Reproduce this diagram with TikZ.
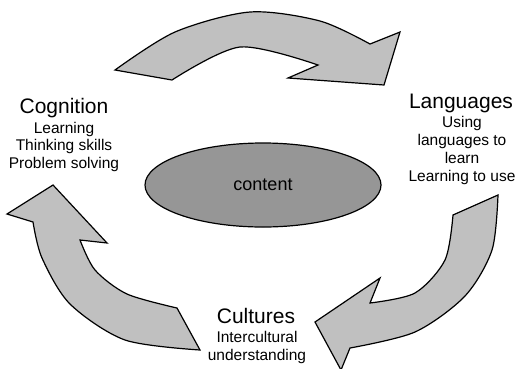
\documentclass[tikz,border=0pt]{standalone}
\usepackage{fontspec}
\setmainfont{Liberation Sans}
\usetikzlibrary{shapes.geometric}
\definecolor{arrowfill}{RGB}{192,192,192}
\definecolor{ellfill}{RGB}{150,150,150}
\newcommand\ttlfont{\fontsize{21}{24}\selectfont}
\newcommand\subfont{\fontsize{15.5}{17.8}\selectfont}
\begin{document}
\begin{tikzpicture}[x=1pt,y=-1pt,
  bigarrow/.style={draw=black, fill=arrowfill, line width=1.2pt, line join=miter},
  titletext/.style={anchor=base, inner sep=0pt, font=\ttlfont},
  subtext/.style={anchor=base, inner sep=0pt, align=center, font=\subfont}]
\useasboundingbox (0,0) rectangle (517,368);
\clip (0,0) rectangle (517,368);
% top arrow (Cognition -> Languages)
\draw[bigarrow] plot[smooth] coordinates {(115,70) (175,32) (250,12) (320,21) (370,44)}
  -- (400,32) -- (384,85) -- (288,78)
  -- plot[smooth] coordinates {(318,65) (240,47) (172,80)} -- cycle;
% right arrow (Languages -> Cultures)
\draw[bigarrow] plot[smooth] coordinates {(498,195) (492,250) (465,296) (415,332) (350,348)}
  -- (341,370) -- (315,322) -- (380,278)
  -- plot[smooth] coordinates {(370,303) (415,293) (445,260) (453,215)} -- cycle;
% left arrow (Cultures -> Cognition)
\draw[bigarrow] plot[smooth] coordinates {(200,350) (125,340) (70,304) (42,258) (33,222)}
  -- (7,214) -- (53,185) -- (107,243)
  -- plot[smooth] coordinates {(80,240) (95,270) (127,294) (177,308)} -- cycle;
% centre ellipse
\node[ellipse, draw=black, line width=1.2pt, fill=ellfill, minimum width=236pt, minimum height=84pt,
  inner sep=0pt, font=\fontsize{18}{20}\selectfont] (content) at (263,185) {content};
% labels
\node[titletext] (cogt) at (64,113) {Cognition};
\node[subtext, font={\fontsize{15.5}{17.5}\selectfont}] (cogs) at (64,168) {Learning\\Thinking skills\\Problem solving};
\node[titletext] (lant) at (461,108) {Languages};
\node[subtext, font={\fontsize{15.5}{17.7}\selectfont}] (lans) at (462,181) {Using\\languages to\\learn\\Learning to use};
\node[titletext] (cult) at (256,323) {Cultures};
\node[subtext, font={\fontsize{15.5}{18}\selectfont}] (culs) at (257,360) {Intercultural\\understanding};
\end{tikzpicture}
\end{document}
